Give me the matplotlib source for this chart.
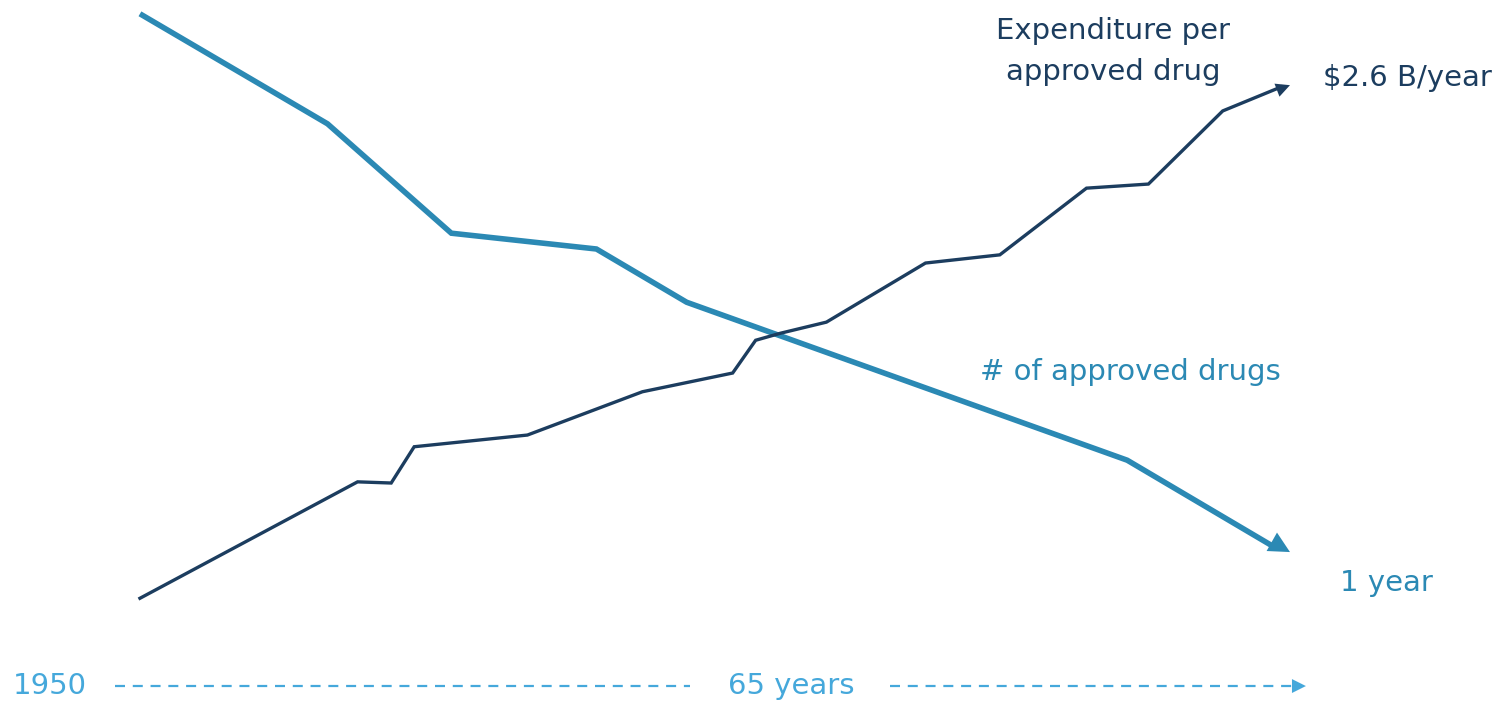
import matplotlib
matplotlib.use("Agg")
import matplotlib.pyplot as plt

# Data (x in years, y in relative index units 0-100)
exp_years = [1950.0, 1962.3, 1964.2, 1965.5, 1971.9, 1978.4, 1983.5, 1984.8,
             1986.2, 1988.8, 1994.4, 1998.6, 2003.5, 2007.0, 2011.2, 2015.0]
exp_values = [0.3, 20.2, 20.0, 26.2, 28.2, 35.6, 38.8, 44.4,
              45.6, 47.5, 57.6, 59.0, 70.4, 71.1, 83.6, 88.0]

drug_years = [1950.0, 1960.6, 1967.6, 1975.8, 1980.9, 2005.8, 2015.0]
drug_values = [100.2, 81.4, 62.7, 60.0, 50.9, 23.9, 8.2]

start_label = "1950"
span_label = "65 years"
exp_title = "Expenditure per\napproved drug"
exp_end_label = "$2.6 B/year"
drug_title = "# of approved drugs"
drug_end_label = "1 year"

DARK = "#1c3d5f"
MID = "#2b89b4"
LIGHT = "#45a8db"

plt.rcParams['font.family'] = ['DejaVu Sans']
fig = plt.figure(figsize=(15.09, 7.03), dpi=100)
ax = fig.add_axes([0, 0, 1, 1])
ax.set_xlim(1942.09, 2027.38)
ax.set_ylim(-17.6, 102.56)
ax.axis('off')

# Light line: number of approved drugs
ax.plot(drug_years[:-1] + [drug_years[-1] - 0.8], drug_values[:-1] + [drug_values[-1] + 0.7],
        color=MID, lw=4.0, solid_capstyle='butt', solid_joinstyle='miter')
ax.annotate('', xy=(drug_years[-1], drug_values[-1]), xytext=(drug_years[-2], drug_values[-2]),
            arrowprops=dict(arrowstyle='-|>,head_length=0.75,head_width=0.38', color=MID, lw=0.01,
                            shrinkA=0, shrinkB=0, mutation_scale=20))

# Dark line: expenditure per approved drug
ax.plot(exp_years[:-1] + [exp_years[-1] - 0.5], exp_values[:-1] + [exp_values[-1] - 0.3],
        color=DARK, lw=2.4, solid_joinstyle='miter')
ax.annotate('', xy=(exp_years[-1], exp_values[-1]), xytext=(exp_years[-2], exp_values[-2]),
            arrowprops=dict(arrowstyle='-|>,head_length=0.5,head_width=0.25', color=DARK, lw=0.01,
                            shrinkA=0, shrinkB=0, mutation_scale=20))

fs = 21
ax.text(2005.0, 93.7, exp_title, ha='center', va='center', color=DARK, fontsize=fs,
        linespacing=1.6)
ax.text(2016.87, 89.2, exp_end_label, ha='left', va='center', color=DARK, fontsize=fs)
ax.text(1997.48, 39.0, drug_title, ha='left', va='center', color=MID, fontsize=fs)
ax.text(2017.83, 2.9, drug_end_label, ha='left', va='center', color=MID, fontsize=fs)

# Bottom timeline
y_tl = -14.7
ax.text(1942.8, y_tl, start_label, ha='left', va='center', color=LIGHT, fontsize=fs)
ax.text(1986.8, y_tl, span_label, ha='center', va='center', color=LIGHT, fontsize=fs)
ax.plot([1948.6, 1981.1], [y_tl, y_tl], color=LIGHT, lw=1.6, dashes=(4.5, 3.5))
ax.plot([1992.4, 2015.2], [y_tl, y_tl], color=LIGHT, lw=1.6, dashes=(4.5, 3.5))
ax.annotate('', xy=(2015.9, y_tl), xytext=(2015.0, y_tl),
            arrowprops=dict(arrowstyle='-|>,head_length=0.5,head_width=0.25', color=LIGHT, lw=0.01,
                            shrinkA=0, shrinkB=0, mutation_scale=20))

fig.savefig("out.png", dpi=100, facecolor='white')
